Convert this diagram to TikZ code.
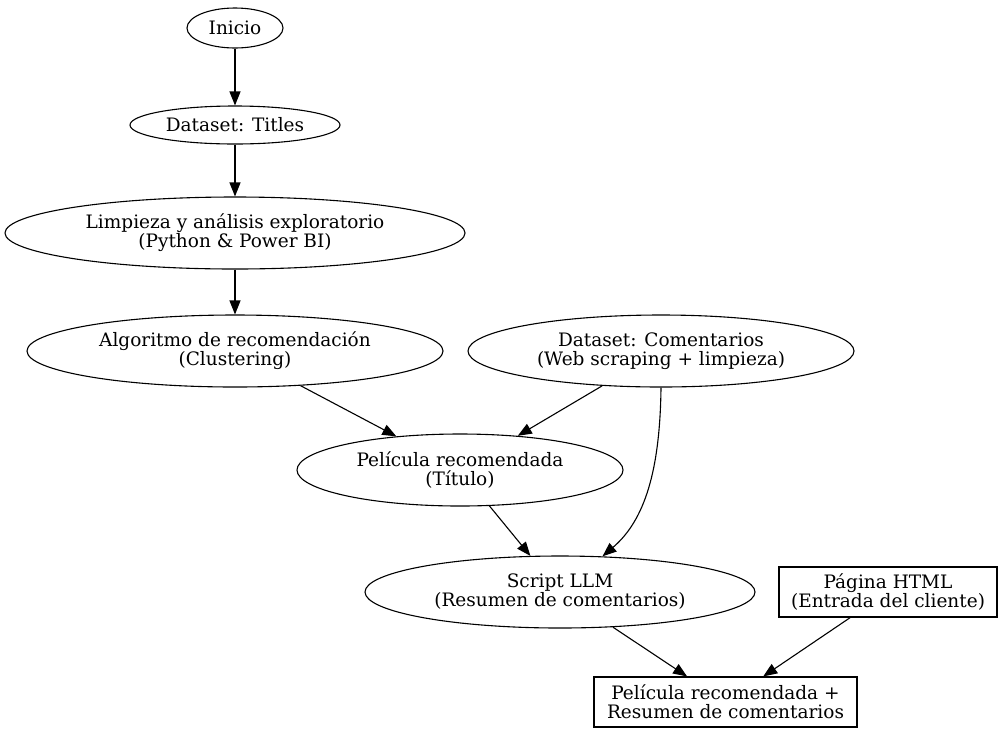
\documentclass[tikz,border=0pt]{standalone}
\usepackage{fontspec}
\setmainfont{DejaVu Serif}
\usetikzlibrary{shapes.geometric,arrows.meta}
\tikzset{
  ell/.style={draw,ellipse,inner sep=0pt,align=center,line width=1.1pt},
  boxn/.style={draw,rectangle,inner sep=0pt,align=center,line width=1.1pt},
  edge/.style={line width=1.1pt,-{Triangle[length=14pt,width=11pt]}},
}
\begin{document}
\begin{tikzpicture}[x=1pt,y=-1pt,font=\fontsize{18.5}{19}\selectfont]
\useasboundingbox (0,0) rectangle (1003,732);
\node[ell,minimum width=96pt,minimum height=40pt] (ini) at (235,28) {Inicio};
\node[ell,minimum width=210pt,minimum height=38pt] (tit) at (235,125) {Dataset: Titles};
\node[ell,minimum width=460pt,minimum height=72pt] (lim) at (235,233) {Limpieza y análisis exploratorio\\(Python \& Power BI)};
\node[ell,minimum width=416pt,minimum height=72pt] (alg) at (235,351) {Algoritmo de recomendación\\(Clustering)};
\node[ell,minimum width=386pt,minimum height=72pt] (com) at (661,351) {Dataset: Comentarios\\(Web scraping + limpieza)};
\node[ell,minimum width=326pt,minimum height=72pt] (pel) at (460,470) {Película recomendada\\(Título)};
\node[ell,minimum width=390pt,minimum height=72pt] (scr) at (560,592) {Script LLM\\(Resumen de comentarios)};
\node[boxn,minimum width=218pt,minimum height=50pt] (htm) at (888,592) {Página HTML\\(Entrada del cliente)};
\node[boxn,minimum width=263pt,minimum height=50pt] (fin) at (725.5,702) {Película recomendada +\\Resumen de comentarios};
\draw[edge] (ini) -- (tit);
\draw[edge] (tit) -- (lim);
\draw[edge] (lim) -- (alg);
\draw[edge] (alg) -- (pel);
\draw[edge] (com) -- (pel);
\draw[edge] (com.south) .. controls (660,470) and (645,520) .. (scr.40);
\draw[edge] (pel) -- (scr);
\draw[edge] (scr) -- (fin);
\draw[edge] (htm) -- (fin);
\end{tikzpicture}
\end{document}
